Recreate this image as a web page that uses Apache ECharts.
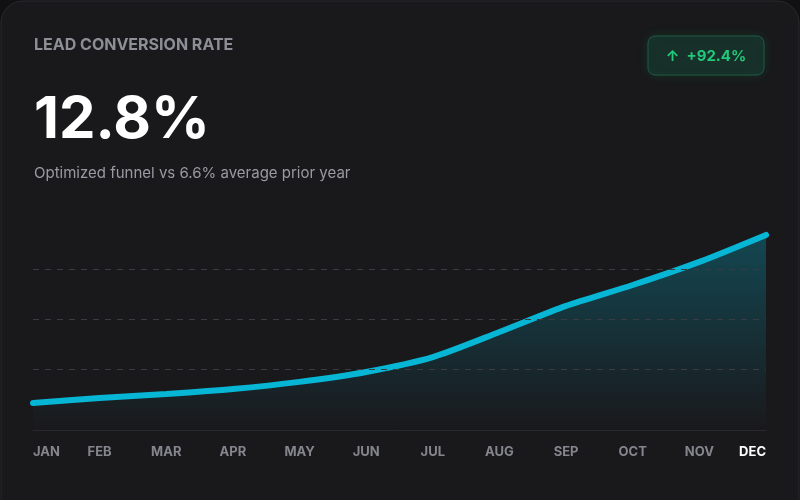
<!DOCTYPE html>
<html lang="en">
<head>
<meta charset="UTF-8">
<script src="https://cdn.jsdelivr.net/npm/echarts@6/dist/echarts.min.js"></script>
<style>
  html, body { margin: 0; padding: 0; background: #111113; }
  #chart { width: 800px; height: 500px; }
</style>
</head>
<body>
<div id="chart"></div>
<script>
var months = ['JAN', 'FEB', 'MAR', 'APR', 'MAY', 'JUN', 'JUL', 'AUG', 'SEP', 'OCT', 'NOV', 'DEC'];
var rates = [6.68, 6.86, 7.01, 7.19, 7.45, 7.81, 8.35, 9.26, 10.21, 10.97, 11.81, 12.79];
var guideValues = [7.92, 9.74, 11.56];

var chart = echarts.init(document.getElementById('chart'));
var font = 'Inter, "Noto Sans", sans-serif';

var option = {
    backgroundColor: '#111113',
    graphic: [
        { type: 'rect', shape: { x: 1, y: 1, width: 798, height: 520, r: 22 },
          style: { fill: '#19191c', stroke: '#2a2a2e', lineWidth: 1 }, z: -10 },
        { type: 'text', left: 34, top: 37,
          style: { text: 'LEAD CONVERSION RATE', fill: '#8e8e96', font: '700 16px ' + font } },
        { type: 'text', left: 34, top: 92,
          style: { text: '12.8%', fill: '#ffffff', font: '700 58px ' + font } },
        { type: 'text', left: 34, top: 166,
          style: { text: 'Optimized funnel vs 6.6% average prior year', fill: '#9a9aa2', font: '15px ' + font } },
        { type: 'rect', shape: { x: 648, y: 36, width: 116, height: 39, r: 7 },
          style: { fill: '#17302a', stroke: '#1f5a45', lineWidth: 1, shadowBlur: 12, shadowColor: 'rgba(34,197,94,0.15)' } },
        { type: 'text', x: 706, y: 56,
          style: { text: '↑  +92.4%', fill: '#22c97a', font: '700 15px ' + font, align: 'center', verticalAlign: 'middle' } }
    ],
    grid: { left: 33, right: 34, top: 222, bottom: 70 },
    xAxis: {
        type: 'category',
        data: months,
        boundaryGap: false,
        axisLine: { lineStyle: { color: '#2a2a2e' } },
        axisTick: { show: false },
        axisLabel: {
            margin: 16,
            alignMinLabel: 'left',
            alignMaxLabel: 'right',
            fontFamily: font,
            fontSize: 13,
            fontWeight: 700,
            color: function (v) { return v === 'DEC' ? '#ffffff' : '#85858d'; }
        }
    },
    yAxis: {
        type: 'value',
        min: 5.7,
        max: 13.26,
        show: false,
        splitLine: { show: false }
    },
    series: [{
        type: 'line',
        data: rates,
        smooth: 0.25,
        symbol: 'none',
        lineStyle: { color: '#06b6d4', width: 6, cap: 'round' },
        areaStyle: {
            color: new echarts.graphic.LinearGradient(0, 0, 0, 1, [
                { offset: 0, color: 'rgba(6,182,212,0.42)' },
                { offset: 1, color: 'rgba(6,182,212,0.0)' }
            ])
        },
        markLine: {
            silent: true,
            symbol: 'none',
            label: { show: false },
            lineStyle: { color: '#3a3a40', type: [6, 6], width: 1 },
            data: guideValues.map(function (v) { return { yAxis: v }; })
        },
        z: 3
    }]
};
chart.setOption(option);
</script>
</body>
</html>
